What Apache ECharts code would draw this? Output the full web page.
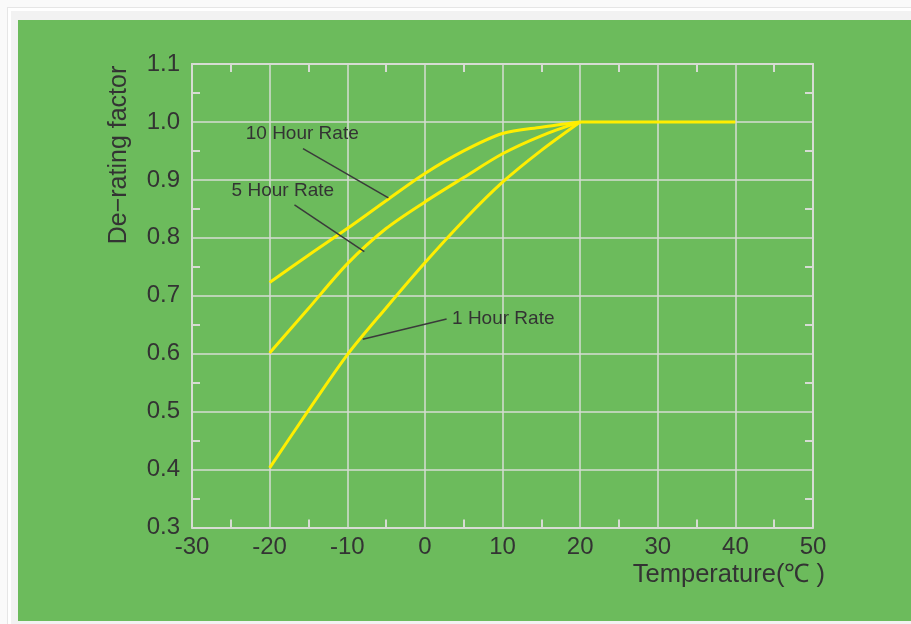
<!DOCTYPE html>
<html>
<head>
<meta charset="utf-8">
<script src="https://cdn.jsdelivr.net/npm/echarts@6/dist/echarts.min.js"></script>
<style>
  html, body { margin:0; padding:0; width:911px; height:624px; overflow:hidden; background:#fafafa; }
  #f1 { position:absolute; left:7px; top:7px; width:910px; height:620px; border-left:1px solid #e6e6e6; border-top:1px solid #e6e6e6; background:#ffffff; }
  #f2 { position:absolute; left:11px; top:11px; width:910px; height:620px; background:#f2f2f2; }
  #chart { position:absolute; left:0; top:0; width:911px; height:624px; }
</style>
</head>
<body>
<div id="f1"></div>
<div id="f2"></div>
<div id="chart"></div>
<script>
// ---- data ----
const temps = [-20, -15, -10, -5, 0, 5, 10, 15, 20];
const rate10h = [0.723, 0.770, 0.816, 0.864, 0.911, 0.950, 0.980, 0.991, 1.0];
const rate5h  = [0.601, 0.678, 0.755, 0.816, 0.862, 0.904, 0.945, 0.976, 1.0];
const rate1h  = [0.403, 0.502, 0.598, 0.679, 0.757, 0.830, 0.896, 0.951, 1.0];
const flatTemps = [20, 30, 40];
const flatValues = [1.0, 1.0, 1.0];
const xTicks = [-30, -20, -10, 0, 10, 20, 30, 40, 50];
const yTicks = [0.3, 0.4, 0.5, 0.6, 0.7, 0.8, 0.9, 1.0, 1.1];
const seriesNames = ['10 Hour Rate', '5 Hour Rate', '1 Hour Rate'];

// annotation layout (in data coordinates)
const annotations = [
  { text: seriesNames[0], label: [-15.8, 0.979], from: [-15.7, 0.954], to: [-4.7, 0.869], align: 'center' },
  { text: seriesNames[1], label: [-18.3, 0.881], from: [-16.8, 0.857], to: [-7.8, 0.776], align: 'center' },
  { text: seriesNames[2], label: [3.5, 0.661], from: [2.8, 0.660], to: [-8.0, 0.625], align: 'left' }
];

const FONT = '"Liberation Sans", Arial, Helvetica, sans-serif';
const TEXT = '#333333';
const GRIDC = '#d6dcd3';
const YELLOW = '#ffee00';

const pairs = (xs, ys) => xs.map((x, i) => [x, ys[i]]);

const chart = echarts.init(document.getElementById('chart'), null, { renderer: 'canvas' });

function lineSeries(name, data, smooth) {
  return {
    name: name, type: 'line', data: data, xAxisIndex: 0, yAxisIndex: 0,
    smooth: smooth, showSymbol: false, symbol: 'none',
    lineStyle: { color: YELLOW, width: 3 }, z: 5, silent: true
  };
}

function axisCommon() {
  return {
    axisLine: { show: true, onZero: false, lineStyle: { color: GRIDC, width: 2 } },
    axisTick: { show: false, inside: true },
    minorTick: { show: true, splitNumber: 2, length: 8, lineStyle: { color: GRIDC, width: 2 } }
  };
}

const option = {
  animation: false,
  backgroundColor: 'transparent',
  grid: { left: 192, right: 98, top: 64, bottom: 96.5, containLabel: false },
  xAxis: [
    Object.assign({
      type: 'value', min: xTicks[0], max: xTicks[xTicks.length - 1], interval: 10, position: 'bottom',
      axisLabel: { color: TEXT, fontSize: 24, fontFamily: FONT, margin: 8 },
      splitLine: { show: true, lineStyle: { color: GRIDC, width: 1.5 } }
    }, axisCommon()),
    Object.assign({
      type: 'value', min: xTicks[0], max: xTicks[xTicks.length - 1], interval: 10, position: 'top',
      axisLabel: { show: false }, splitLine: { show: false }
    }, axisCommon())
  ],
  yAxis: [
    Object.assign({
      type: 'value', min: yTicks[0], max: yTicks[yTicks.length - 1], interval: 0.1, position: 'left',
      axisLabel: { color: TEXT, fontSize: 24, fontFamily: FONT, margin: 12, formatter: v => v.toFixed(1) },
      splitLine: { show: true, lineStyle: { color: GRIDC, width: 1.5 } }
    }, axisCommon()),
    Object.assign({
      type: 'value', min: yTicks[0], max: yTicks[yTicks.length - 1], interval: 0.1, position: 'right',
      axisLabel: { show: false }, splitLine: { show: false }
    }, axisCommon())
  ],
  series: [
    lineSeries(seriesNames[0], pairs(temps, rate10h), 0.3),
    lineSeries(seriesNames[1], pairs(temps, rate5h), 0.3),
    lineSeries(seriesNames[2], pairs(temps, rate1h), 0.3),
    lineSeries('flat', pairs(flatTemps, flatValues), false)
  ]
};
chart.setOption(option);

// background and annotations
const toPx = p => chart.convertToPixel({ xAxisIndex: 0, yAxisIndex: 0 }, p);
const elements = [
  { type: 'rect', z: -10, silent: true, shape: { x: 18, y: 20, width: 893, height: 601 }, style: { fill: '#6cbb5c' } },
  { type: 'text', z: 10, silent: true, x: 119, y: 155, rotation: Math.PI / 2,
    style: { text: 'De\u2212rating factor', fill: TEXT, font: '25px ' + FONT, align: 'center', verticalAlign: 'middle' } },
  { type: 'text', z: 10, silent: true, x: 825, y: 575,
    style: { text: 'Temperature(\u2103 )', fill: TEXT, font: '25.5px ' + FONT, align: 'right', verticalAlign: 'middle' } }
];
annotations.forEach(a => {
  const lp = toPx(a.label), f = toPx(a.from), t = toPx(a.to);
  elements.push({ type: 'line', z: 8, silent: true, shape: { x1: f[0], y1: f[1], x2: t[0], y2: t[1] },
    style: { stroke: '#3a3a3a', lineWidth: 1.5 } });
  elements.push({ type: 'text', z: 10, silent: true, x: lp[0], y: lp[1],
    style: { text: a.text, fill: TEXT, font: '19px ' + FONT, align: a.align, verticalAlign: 'middle' } });
});
chart.setOption({ graphic: { elements: elements } });
</script>
</body>
</html>
